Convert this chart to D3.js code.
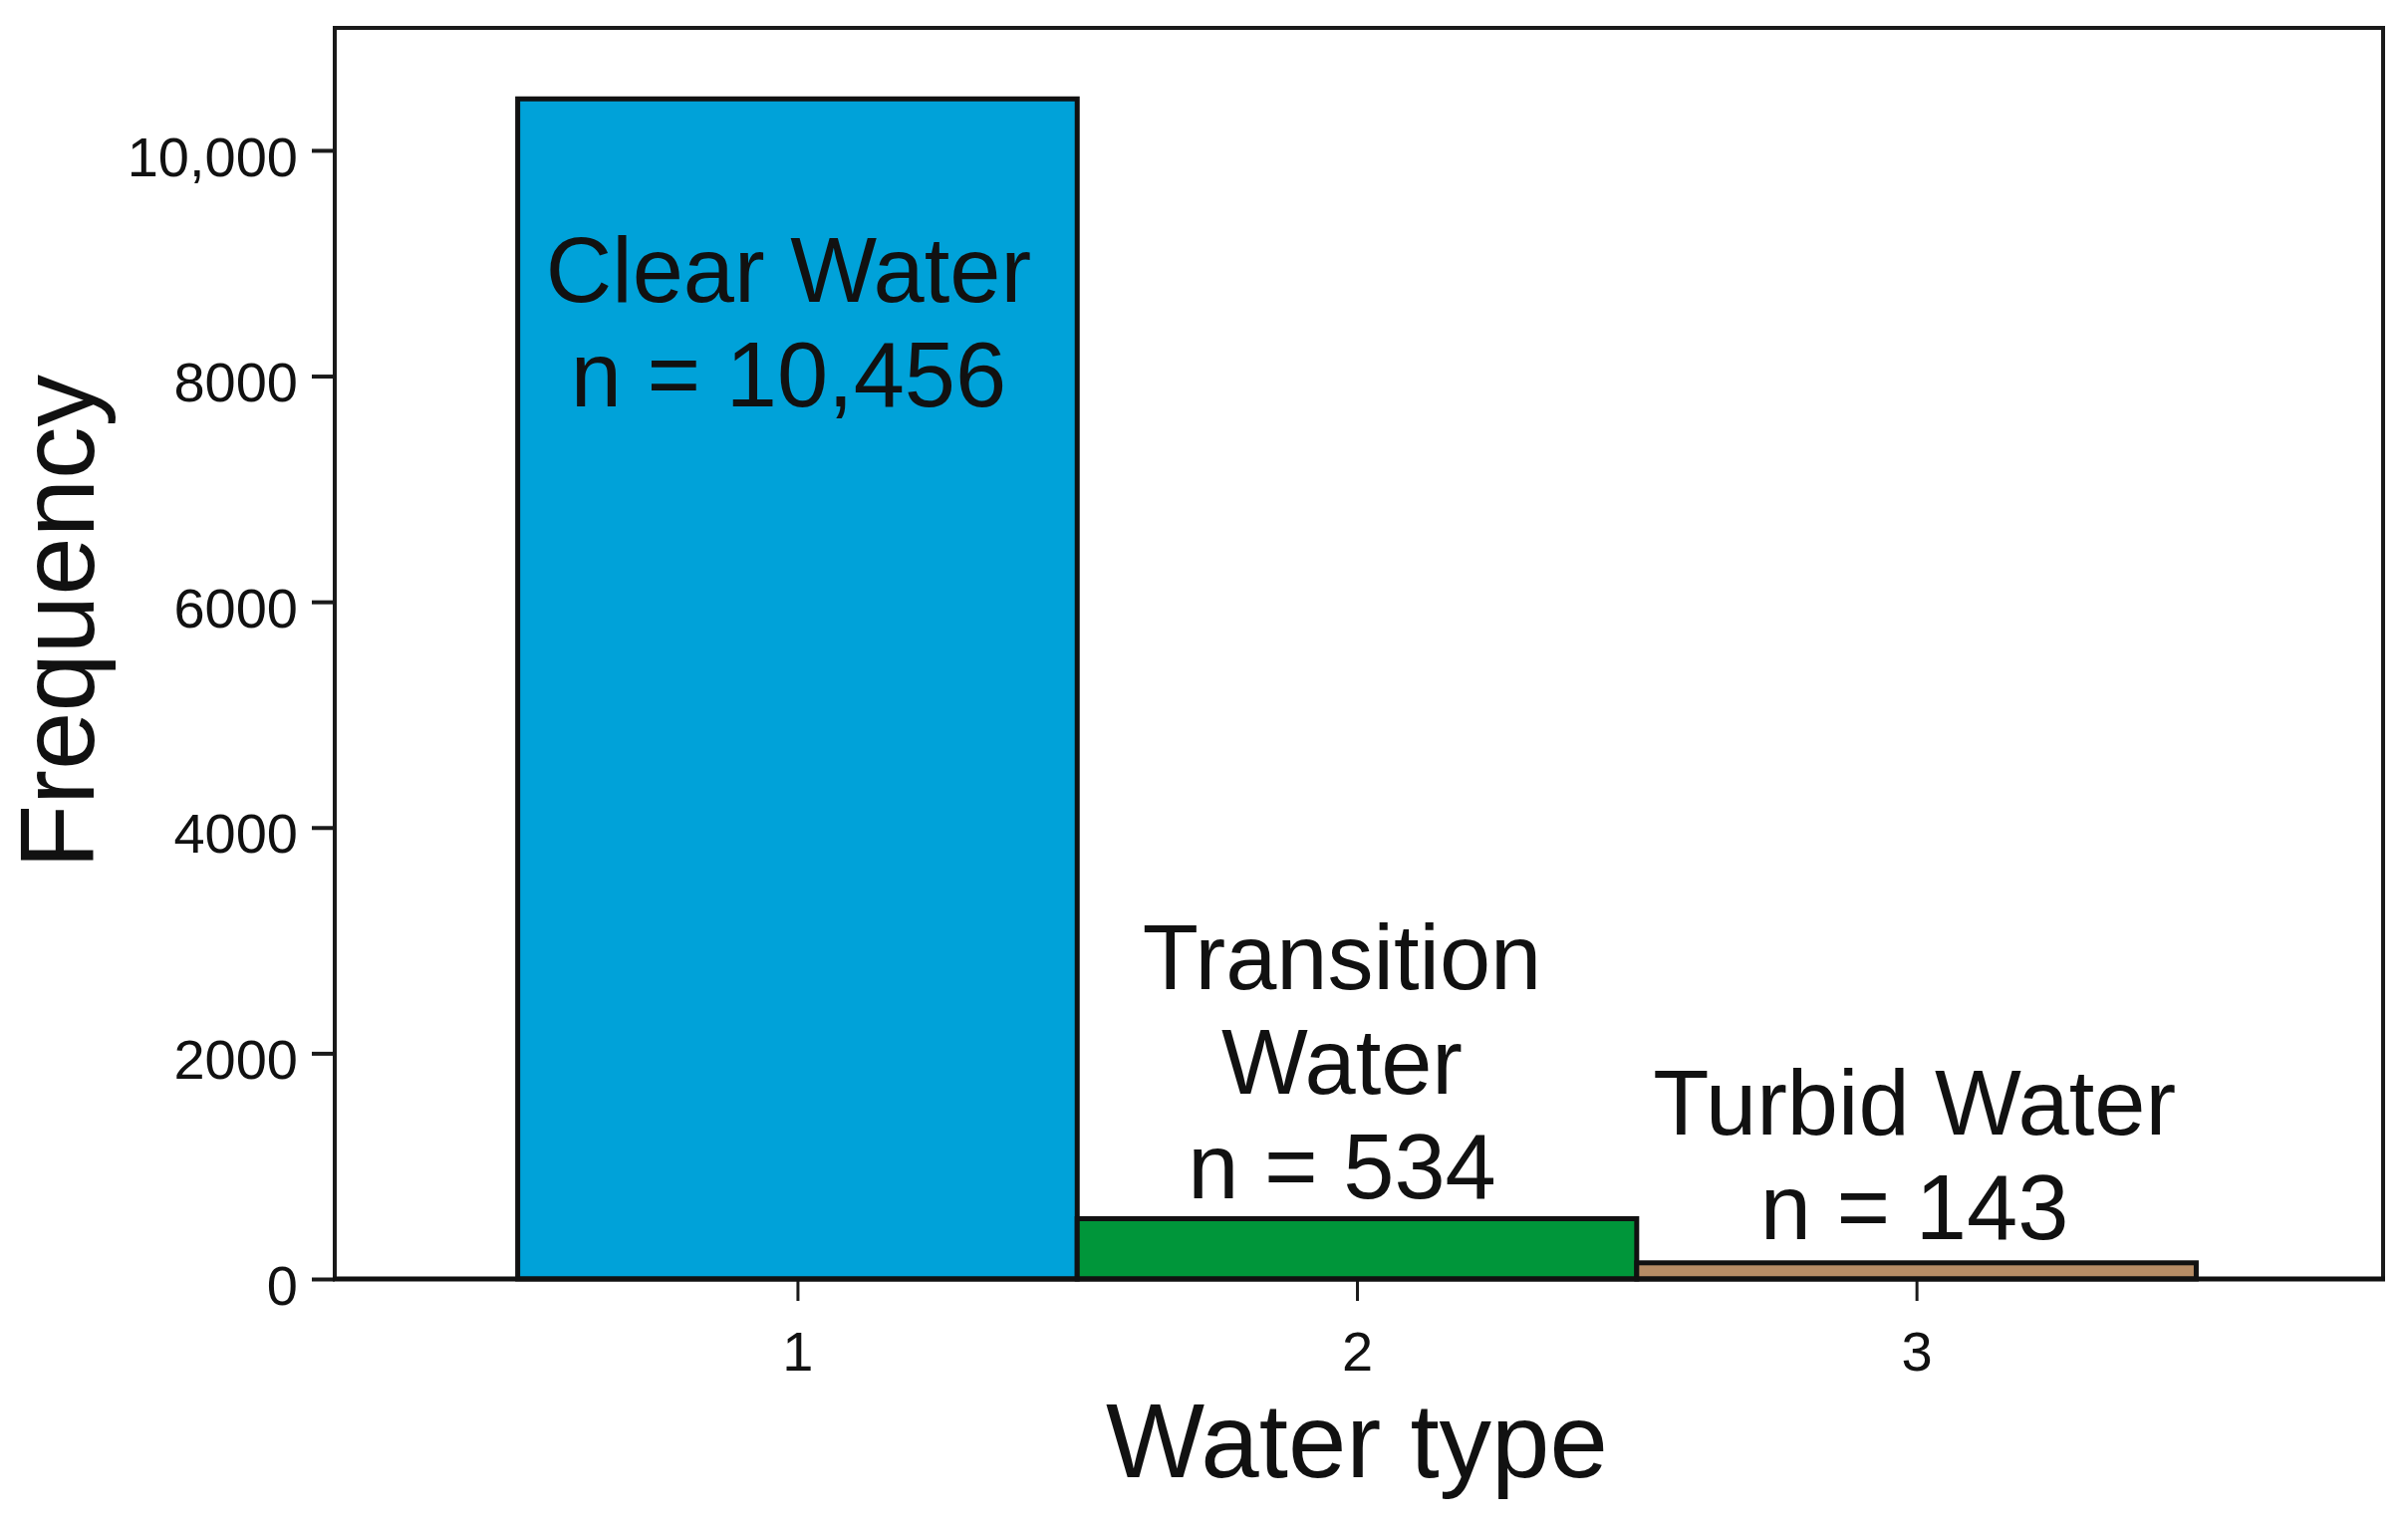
<!DOCTYPE html>
<html>
<head>
<meta charset="utf-8">
<script src="https://cdn.jsdelivr.net/npm/d3@7"></script>
<style>
  html, body { margin: 0; padding: 0; background: #fff; }
  svg { display: block; }
  text { font-family: "Liberation Sans", Arial, sans-serif; fill: #111; }
</style>
</head>
<body>
<svg id="chart" width="2417" height="1531"></svg>
<script>
// ---- data ----
const categories = [1, 2, 3];
const frequencies = [10456, 534, 143];
const barLabels = [
  ["Clear Water", "n = 10,456"],
  ["Transition", "Water", "n = 534"],
  ["Turbid Water", "n = 143"]
];
const barColors = ["#00a2d9", "#00963a", "#b68c65"];
const yTicks = [0, 2000, 4000, 6000, 8000, 10000];
const yTickLabels = ["0", "2000", "4000", "6000", "8000", "10,000"];
const xTickLabels = ["1", "2", "3"];
const xTitle = "Water type";
const yTitle = "Frequency";

// ---- layout ----
const plotLeft = 336, plotRight = 2392, plotTop = 28, plotBottom = 1284;
const svg = d3.select("#chart");

const x = d3.scaleLinear().domain([0.173, 3.834]).range([plotLeft, plotRight]);
const y = d3.scaleLinear().domain([0, 11085]).range([plotBottom, plotTop]);

// bars
svg.append("g").selectAll("rect")
  .data(categories)
  .join("rect")
  .attr("x", (d) => x(d - 0.5))
  .attr("width", (d) => x(d + 0.5) - x(d - 0.5))
  .attr("y", (d, i) => y(frequencies[i]))
  .attr("height", (d, i) => y(0) - y(frequencies[i]))
  .attr("fill", (d, i) => barColors[i])
  .attr("stroke", "#111")
  .attr("stroke-width", 5);

// frame
svg.append("rect")
  .attr("x", plotLeft).attr("y", plotTop)
  .attr("width", plotRight - plotLeft).attr("height", plotBottom - plotTop)
  .attr("fill", "none").attr("stroke", "#1a1a1a").attr("stroke-width", 4);

// y axis
const yAxis = d3.axisLeft(y).tickValues(yTicks)
  .tickFormat((d, i) => yTickLabels[i]).tickSize(23).tickPadding(14);
const gy = svg.append("g").attr("transform", `translate(${plotLeft},0)`).call(yAxis);
gy.select(".domain").remove();
gy.selectAll(".tick line").attr("stroke", "#1a1a1a").attr("stroke-width", 4);
gy.selectAll(".tick text").attr("font-size", 56).attr("dy", "0.45em")
  .attr("font-family", "'Liberation Sans', Arial, sans-serif").attr("fill", "#111");

// x axis
const xAxis = d3.axisBottom(x).tickValues(categories)
  .tickFormat((d, i) => xTickLabels[i]).tickSize(22).tickPadding(30);
const gx = svg.append("g").attr("transform", `translate(0,${plotBottom})`).call(xAxis);
gx.select(".domain").remove();
gx.selectAll(".tick line").attr("stroke", "#1a1a1a").attr("stroke-width", 3);
gx.selectAll(".tick text").attr("font-size", 56)
  .attr("font-family", "'Liberation Sans', Arial, sans-serif").attr("fill", "#111");

// bottom axis line (thicker)
svg.append("line").attr("x1", plotLeft - 2).attr("x2", plotRight + 2)
  .attr("y1", plotBottom).attr("y2", plotBottom)
  .attr("stroke", "#111").attr("stroke-width", 5);

// bar labels
const labelOffsets = [-9, -15, -2];
const labelBaselines = [303, 993, 1139];
categories.forEach((c, i) => {
  const t = svg.append("text")
    .attr("text-anchor", "middle")
    .attr("font-size", 92)
    .attr("x", x(c) + labelOffsets[i])
    .attr("y", labelBaselines[i]);
  barLabels[i].forEach((line, j) => {
    t.append("tspan").attr("x", x(c) + labelOffsets[i])
      .attr("dy", j === 0 ? 0 : 105).text(line);
  });
});

// axis titles
svg.append("text").attr("text-anchor", "middle").attr("font-size", 105)
  .attr("x", 1362).attr("y", 1483).text(xTitle);
svg.append("text").attr("text-anchor", "middle").attr("font-size", 105)
  .attr("transform", "translate(94,624) rotate(-90)").text(yTitle);
</script>
</body>
</html>
